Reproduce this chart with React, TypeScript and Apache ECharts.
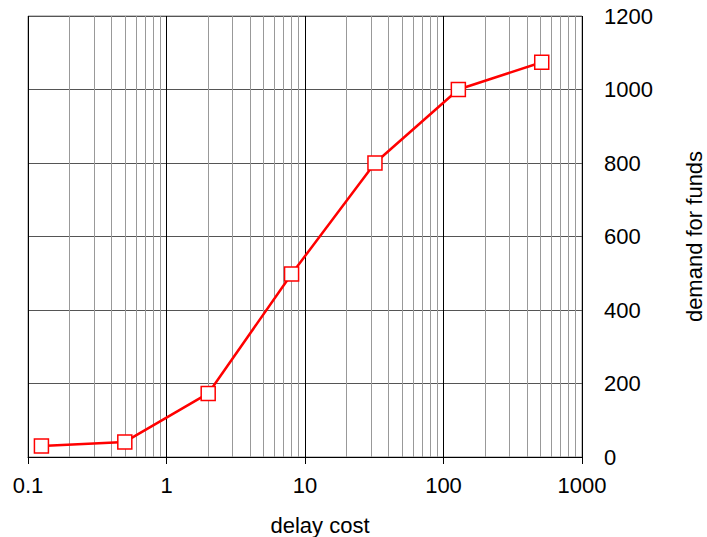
import React, { useEffect, useRef } from "react";
import * as echarts from "echarts";

const delayCost = [0.125, 0.5, 2, 8, 32, 128, 512];
const demandForFunds = [30, 41, 173, 498, 800, 1000, 1074];
const decades = [0.1, 1, 10, 100];
const minorMultipliers = [2, 3, 4, 5, 6, 7, 8, 9];

export default function App() {
  const ref = useRef<HTMLDivElement>(null);
  useEffect(() => {
    if (!ref.current) return;
    const chart = echarts.init(ref.current, null, { renderer: "svg" });
    const minorLines: { xAxis: number }[] = [];
    decades.forEach((d) =>
      minorMultipliers.forEach((m) => minorLines.push({ xAxis: Number((d * m).toPrecision(3)) }))
    );
    const font = "Liberation Sans, Arial, sans-serif";
    const fs = 22;
    chart.setOption({
      animation: false,
      backgroundColor: "#fff",
      grid: {
        left: 28,
        right: 125,
        top: 16,
        bottom: 80,
        show: true,
        borderColor: "#888",
        borderWidth: 1,
        containLabel: false,
        outerBoundsMode: "none",
      },
      xAxis: {
        type: "log",
        logBase: 10,
        min: 0.1,
        max: 1000,
        name: "delay cost",
        nameLocation: "middle",
        nameGap: 57,
        nameTextStyle: { fontFamily: font, fontSize: fs, color: "#000", padding: [0, 0, 0, 30] },
        axisLine: { show: true, onZero: false, lineStyle: { color: "#000", width: 1 } },
        axisTick: { show: true, inside: false, length: 7, lineStyle: { color: "#000" } },
        axisLabel: {
          fontFamily: font,
          fontSize: fs,
          color: "#000",
          margin: 17,
          formatter: (v: number) => String(Number(v.toPrecision(3))),
        },
        splitLine: { show: true, lineStyle: { color: "#000", width: 1 } },
        minorTick: { show: false },
        minorSplitLine: { show: false },
      },
      yAxis: {
        type: "value",
        position: "right",
        min: 0,
        max: 1200,
        interval: 200,
        name: "demand for funds",
        nameLocation: "middle",
        nameRotate: 90,
        nameGap: 101,
        nameTextStyle: { fontFamily: font, fontSize: fs, color: "#000" },
        axisLine: { show: false },
        axisTick: { show: false },
        axisLabel: {
          fontFamily: font,
          fontSize: fs,
          color: "#000",
          margin: 22,
          align: "left",
          formatter: (v: number) => String(v),
        },
        splitLine: { show: true, lineStyle: { color: "#555", width: 1 } },
      },
      series: [
        {
          type: "line",
          data: [],
          z: 1,
          silent: true,
          markLine: {
            silent: true,
            symbol: "none",
            label: { show: false },
            lineStyle: { color: "#999", type: "solid", width: 1 },
            data: minorLines,
          },
        },
        {
          type: "line",
          z: 5,
          data: delayCost.map((x, i) => [x, demandForFunds[i]]),
          symbol: "rect",
          symbolSize: 14,
          showSymbol: true,
          lineStyle: { color: "#ff0000", width: 2.5 },
          itemStyle: { color: "#fff", borderColor: "#ff0000", borderWidth: 1.5 },
        },
      ],
    });
    return () => chart.dispose();
  }, []);
  return (
    <div
      ref={ref}
      style={{ position: "fixed", left: 0, top: 0, width: 707, height: 537, background: "#fff" }}
    />
  );
}
